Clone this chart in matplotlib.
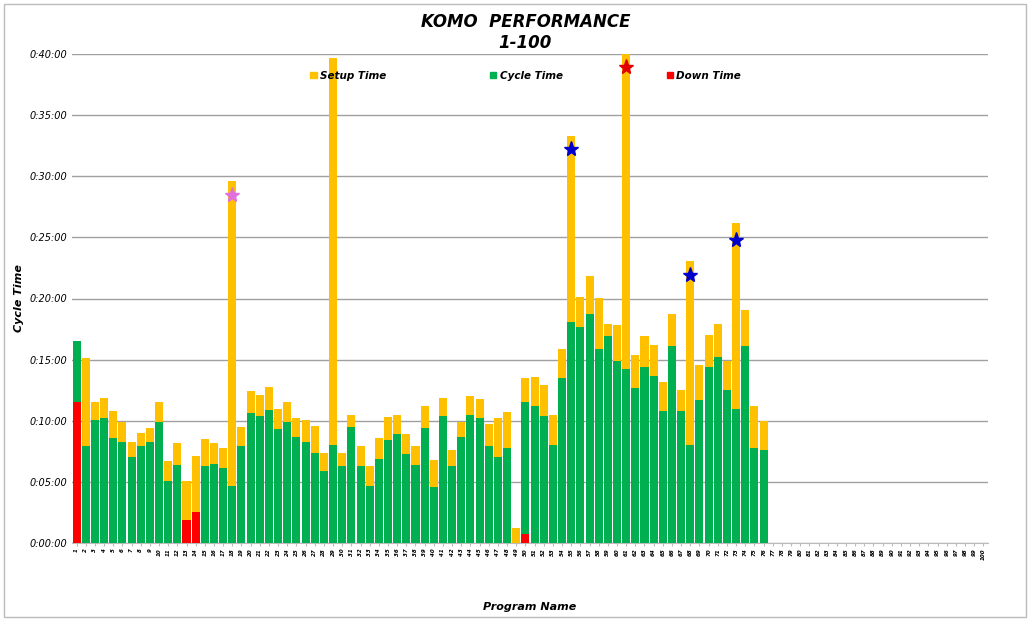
#!/usr/bin/env python3
"""KOMO performance stacked bars: down / cycle / setup time per program (minutes)."""
import matplotlib
matplotlib.use("Agg")
import matplotlib.pyplot as plt
from matplotlib.patches import Rectangle

programs = [str(i) for i in range(1, 101)]

# minutes, programs 1..76 (77..100 empty)
down = [11.5, 0, 0, 0, 0, 0, 0, 0, 0, 0, 0, 0, 1.9, 2.5] + [0] * 34 + [0, 0.7] + [0] * 26
cycle = [5.0, 7.9, 10.1, 10.2, 8.6, 8.3, 7.0, 7.9, 8.3, 9.9,
         5.1, 6.4, 0, 0, 6.3, 6.5, 6.1, 4.7, 7.9, 10.6,
         10.4, 10.9, 9.3, 9.9, 8.7, 8.3, 7.4, 5.9, 8.0, 6.3,
         9.5, 6.3, 4.7, 6.9, 8.4, 8.9, 7.3, 6.4, 9.4, 4.6,
         10.4, 6.3, 8.7, 10.5, 10.2, 7.9, 7.0, 7.8, 0, 10.8,
         11.2, 10.4, 8.0, 13.5, 18.1, 17.7, 18.7, 15.9, 16.9, 14.9,
         14.2, 12.7, 14.4, 13.7, 10.8, 16.1, 10.8, 8.0, 11.7, 14.4,
         15.2, 12.5, 11.0, 16.1, 7.8, 7.6]
total = [16.5, 15.1, 11.5, 11.9, 10.8, 9.9, 8.3, 9.0, 9.4, 11.5,
         6.7, 8.2, 5.1, 7.1, 8.5, 8.2, 7.8, 29.6, 9.5, 12.4,
         12.1, 12.8, 11.0, 11.5, 10.2, 10.1, 9.6, 7.4, 39.7, 7.4,
         10.5, 7.9, 6.3, 8.6, 10.3, 10.5, 8.9, 7.9, 11.2, 6.8,
         11.9, 7.6, 9.9, 12.0, 11.8, 9.7, 10.2, 10.7, 1.2, 13.5,
         13.6, 12.9, 10.5, 15.9, 33.3, 20.1, 21.8, 20.0, 17.9, 17.8,
         40.0, 15.4, 16.9, 16.2, 13.2, 18.7, 12.5, 23.1, 14.6, 17.0,
         17.9, 14.9, 26.2, 19.1, 11.2, 10.0]
down += [0] * (100 - len(down))
cycle += [0] * (100 - len(cycle))
total += [0] * (100 - len(total))
setup = [max(t - d - c, 0) for t, d, c in zip(total, down, cycle)]

star_idx = [18, 55, 61, 68, 73]
star_val = [28.5, 32.2, 38.9, 21.9, 24.8]
star_col = ["#E070E0", "#0000CC", "#E00000", "#0000CC", "#0000CC"]

RED, GREEN, ORANGE = "#FF0000", "#00B050", "#FFC000"


def fmt(v, _):
    return f"0:{int(round(v)):02d}:00"


fig = plt.figure(figsize=(10.30, 6.21), dpi=100)
ax = fig.add_axes([72 / 1030, 1 - 543 / 621, 916 / 1030, 489 / 621])
x = list(range(100))
ax.bar(x, down, width=0.88, color=RED, zorder=3)
ax.bar(x, cycle, width=0.88, bottom=down, color=GREEN, zorder=3)
base = [d + c for d, c in zip(down, cycle)]
ax.bar(x, setup, width=0.88, bottom=base, color=ORANGE, zorder=3)
for i, v, c in zip(star_idx, star_val, star_col):
    ax.plot(i - 1, v, marker="*", ms=11, color=c, mec=c, zorder=4, ls="none")

ax.set_xlim(-0.5, 99.5)
ax.set_ylim(0, 40)
ax.set_yticks(range(0, 41, 5))
ax.yaxis.set_major_formatter(plt.FuncFormatter(fmt))
ax.grid(axis="y", color="#A0A0A0", lw=1, zorder=0)
ax.set_xticks(x)
ax.set_xticklabels(programs, rotation=90, fontsize=4, fontstyle="italic", fontweight="bold")
ax.tick_params(axis="x", length=2, pad=2, color="#BBBBBB")
ax.tick_params(axis="y", length=0, labelsize=7)
for lbl in ax.get_yticklabels():
    lbl.set_fontstyle("italic")
for s in ("top", "right", "left"):
    ax.spines[s].set_visible(False)
ax.spines["bottom"].set_color("#BBBBBB")
ax.set_ylabel("Cycle Time", fontsize=8, fontstyle="italic", fontweight="bold")
ax.set_xlabel("Program Name", fontsize=8, fontstyle="italic", fontweight="bold", labelpad=30)

handles = [Rectangle((0, 0), 1, 1, color=ORANGE), Rectangle((0, 0), 1, 1, color=GREEN),
           Rectangle((0, 0), 1, 1, color=RED)]
ax.legend(handles, ["Setup Time", "Cycle Time", "Down Time"], ncol=3, frameon=False,
          loc="upper left", bbox_to_anchor=(0.25, 0.985), columnspacing=10,
          handlelength=0.6, handleheight=0.6, handletextpad=0.3,
          prop={"size": 7.5, "style": "italic", "weight": "bold"})

fig.text(0.51, 0.965, "KOMO  PERFORMANCE", ha="center", va="center", fontsize=12,
         fontstyle="italic", fontweight="bold")
fig.text(0.51, 0.93, "1-100", ha="center", va="center", fontsize=12,
         fontstyle="italic", fontweight="bold")
fig.add_artist(Rectangle((0.004, 0.006), 0.992, 0.988, transform=fig.transFigure,
                         fill=False, ec="#BBBBBB", lw=1))
fig.savefig("out.png", dpi=100)
